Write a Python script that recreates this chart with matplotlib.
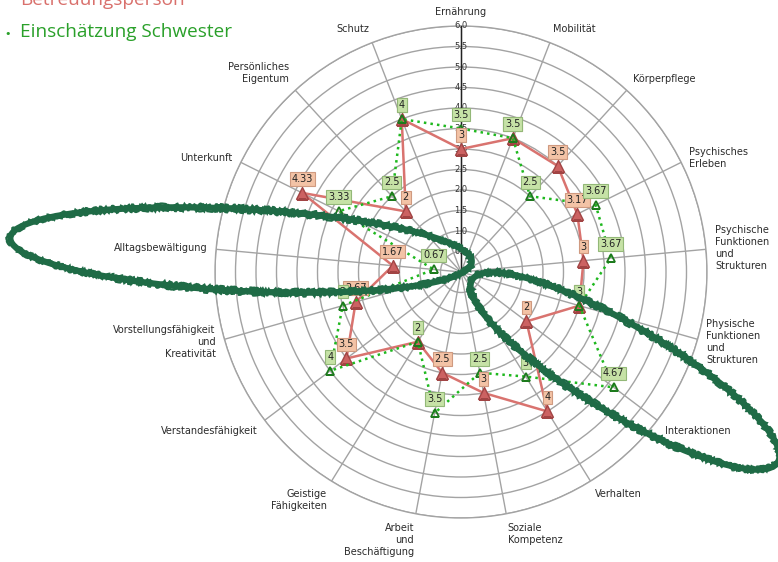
import numpy as np
import matplotlib
matplotlib.use("Agg")
import matplotlib.pyplot as plt
from matplotlib.patches import Ellipse

# categories clockwise, starting at the top
categories = ["Ernährung", "Mobilität", "Körperpflege", "Psychisches\nErleben",
              "Psychische\nFunktionen\nund\nStrukturen",
              "Physische\nFunktionen\nund\nStrukturen",
              "Interaktionen", "Verhalten", "Soziale\nKompetenz",
              "Arbeit\nund\nBeschäftigung", "Geistige\nFähigkeiten",
              "Verstandesfähigkeit", "Vorstellungsfähigkeit\nund\nKreativität",
              "Alltagsbewältigung", "Unterkunft", "Persönliches\nEigentum", "Schutz"]
betreuung = [3, 3.5, 3.5, 3.17, 3, 3, 2, 4, 3, 2.5, 2, 3.5, 2.67, 1.67, 4.33, 2, 4]
schwester = [3.5, 3.5, 2.5, 3.67, 3.67, 3, 4.67, 3, 2.5, 3.5, 2, 4, 3, 0.67, 3.33, 2.5, 4]
series_names = ["Betreuungsperson", "Einschätzung Schwester"]
r_ticks = np.arange(0.5, 6.01, 0.5)

W, H = 778, 562
fig = plt.figure(figsize=(W / 100, H / 100), dpi=100)

# polar axis: centre at (461, 272) px, radius 246 px
cx, cy, rad = 461, 272, 246
ax = fig.add_axes([(cx - rad) / W, (H - cy - rad) / H, 2 * rad / W, 2 * rad / H],
                  projection="polar")
ax.set_theta_zero_location("N")
ax.set_theta_direction(-1)
ax.set_ylim(0, 6)

n = len(categories)
theta = np.arange(n) * 2 * np.pi / n
ax.set_xticks(theta)
ax.set_xticklabels([])
ax.set_yticks(r_ticks)
ax.set_yticklabels([])
ax.grid(True, color="#a3a3a3", linewidth=1)
ax.spines["polar"].set_color("#a3a3a3")
ax.spines["polar"].set_linewidth(1)

# value axis along the first spoke
ax.plot([0, 0], [0, 6], color="#222222", linewidth=1, zorder=3)
for v in r_ticks:
    ax.text(0, v, f"{v:.1f}", ha="center", va="center", fontsize=6,
            color="#333333", zorder=4)

# category labels
for t, name in zip(theta, categories):
    s, c = np.sin(t), np.cos(t)
    ha = "left" if s > 0.1 else ("right" if s < -0.1 else "center")
    va = "bottom" if c > 0.6 else ("top" if c < -0.55 else "center")
    ax.text(t, 6.22, name, ha=ha, va=va, multialignment=ha if ha != "center" else "center",
            fontsize=7, color="#2b2b2b", linespacing=1.25)

t_closed = np.append(theta, theta[0])

red_line = "#d9736f"
green_line = "#1fb81f"

ax.plot(t_closed, betreuung + betreuung[:1], color=red_line, linewidth=1.8, zorder=5)
ax.plot(theta, betreuung, linestyle="none", marker="^", markersize=8,
        markerfacecolor="#cc6262", markeredgecolor="#a24444", zorder=6)

ax.plot(t_closed, schwester + schwester[:1], color=green_line, linewidth=1.8,
        linestyle=":", zorder=7)
ax.plot(theta, schwester, linestyle="none", marker="^", markersize=6,
        markerfacecolor="none", markeredgecolor="#1c7a1c", markeredgewidth=1.3, zorder=8)

for t, v in zip(theta, betreuung):
    ax.annotate(f"{v:g}", xy=(t, v), xytext=(0, 14), textcoords="offset pixels",
                ha="center", va="center", fontsize=7, color="#222222", zorder=9,
                bbox=dict(boxstyle="square,pad=0.18", fc="#f3c3a6", ec="#cf9a80", lw=0.8))
for t, v in zip(theta, schwester):
    ax.annotate(f"{v:g}", xy=(t, v), xytext=(0, 14), textcoords="offset pixels",
                ha="center", va="center", fontsize=7, color="#222222", zorder=10,
                bbox=dict(boxstyle="square,pad=0.18", fc="#c6e2a6", ec="#93b878", lw=0.8))

# legend at the top left (first entry cut by the border)
fig.text(20 / W, 1 - 5 / H, series_names[0], fontsize=13.7, color="#d9706c",
         family="Open Sans", va="baseline")
fig.text(20 / W, 1 - 37 / H, series_names[1], fontsize=13.7, color="#2aa02a",
         family="Open Sans", va="baseline")
fig.text(8 / W, 1 - 34 / H, "\u2022", fontsize=8, color="#2aa02a", ha="center", va="center")

# hand drawn highlight ellipses on top
over = fig.add_axes([0, 0, 1, 1], zorder=20)
over.set_xlim(0, W)
over.set_ylim(H, 0)
over.axis("off")
over.patch.set_alpha(0)
ink = "#1f6b46"
for (ex, ey, ew, eh, ang) in [(241, 250, 462, 82, 3.0), (625, 371, 356, 88, 30.8)]:
    base = Ellipse((ex, ey), ew, eh, angle=ang, fill=False, edgecolor=ink, linewidth=4.5)
    over.add_patch(base)
    # rough marker edges
    for dw, lw in [(5, 1.6), (-5, 1.6)]:
        rim = Ellipse((ex, ey), ew + dw, eh + dw, angle=ang, fill=False,
                      edgecolor=ink, linewidth=lw)
        rim.set_sketch_params(scale=1.5, length=6, randomness=12)
        over.add_patch(rim)

fig.savefig("out.png", dpi=100)
